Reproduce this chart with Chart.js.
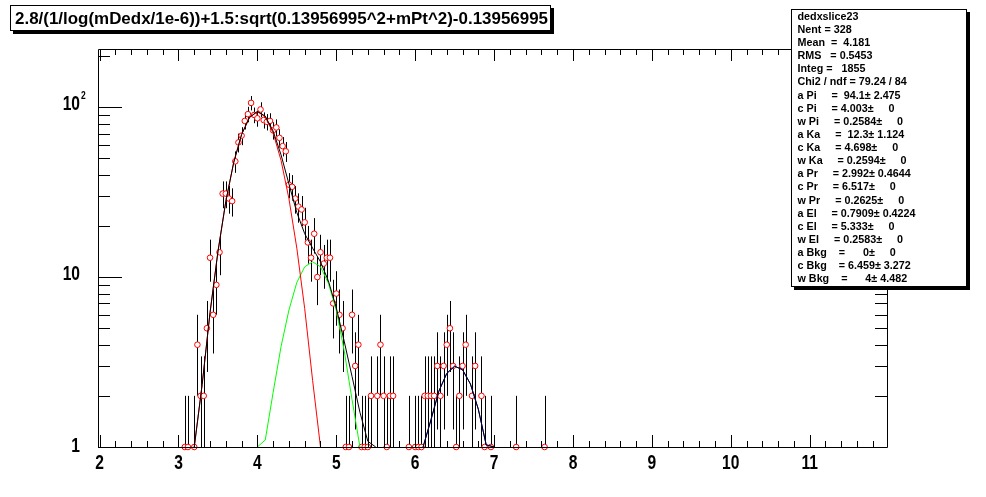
<!DOCTYPE html>
<html>
<head>
<meta charset="utf-8">
<script src="https://cdn.jsdelivr.net/npm/chart.js@4.4.1/dist/chart.umd.min.js"></script>
<style>
	html, body { margin: 0; padding: 0; background: #fff; }
	#wrap { width: 986px; height: 497px; position: relative; }
</style>
</head>
<body>
<div id="wrap"><canvas id="chart" width="986" height="497"></canvas></div>
<script>
// histogram bins (centre of each non-empty 0.04 bin) and their contents
const binCenters = [
	3.08, 3.12, 3.20, 3.24, 3.28, 3.32, 3.36, 3.40, 3.44, 3.48, 3.52, 3.56, 3.60, 3.64, 3.68,
	3.72, 3.76, 3.80, 3.84, 3.88, 3.92, 3.96, 4.00, 4.04, 4.08, 4.12, 4.16, 4.20, 4.24, 4.28,
	4.32, 4.36, 4.40, 4.44, 4.48, 4.52, 4.56, 4.60, 4.64, 4.68, 4.72, 4.76, 4.80, 4.84, 4.88,
	4.92, 4.96, 5.00, 5.04, 5.08, 5.12, 5.16, 5.20, 5.24, 5.28, 5.32, 5.36, 5.40, 5.44, 5.52,
	5.56, 5.60, 5.64, 5.68, 5.72, 5.92, 6.00, 6.04, 6.08, 6.12, 6.16, 6.20, 6.24, 6.28, 6.32,
	6.36, 6.40, 6.44, 6.48, 6.52, 6.56, 6.60, 6.64, 6.72, 6.76, 6.84, 6.88, 6.96, 7.28, 7.64
];
const binCounts = [
	1, 1, 1, 4, 2, 2, 5, 13, 6, 9, 14, 31, 31, 29, 28,
	48, 62, 68, 83, 91, 106, 90, 86, 97, 84, 82, 83, 73, 76, 66,
	59, 55, 35, 34, 29, 26, 25, 21, 16, 13, 18, 10, 14, 12, 13,
	13, 7, 8, 6, 5, 1, 1, 6, 3, 4, 1, 1, 1, 2, 2,
	4, 2, 1, 2, 2, 1, 1, 1, 1, 2, 2, 2, 2, 3, 2,
	3, 4, 5, 3, 1, 2, 3, 4, 2, 3, 2, 1, 1, 1, 1
];

// fit curves at 0.1 steps (values under 1 sit on the axis)
const totalX = [3.2, 3.3, 3.4, 3.5, 3.6, 3.7, 3.8, 3.9, 4.0, 4.1, 4.2, 4.3, 4.4, 4.5, 4.6, 4.7, 4.8, 4.9, 5.0, 5.1, 5.2, 5.3, 5.4, 5.5,
	null, 6.1, 6.2, 6.3, 6.4, 6.5, 6.6, 6.7, 6.8, 6.9, 7.0];
const totalY = [1, 2.33, 6.18, 14.1, 27.9, 47.3, 69.1, 87.0, 94.4, 88.6, 72.3, 52.4, 35.3, 24.0, 18.0, 14.8, 12.3, 9.5, 6.6, 4.2, 2.6, 1.6, 1.08, 1,
	null, 1, 1.45, 2.13, 2.71, 2.99, 2.85, 2.35, 1.67, 1.03, 1];
const pionX = [3.2, 3.3, 3.4, 3.5, 3.6, 3.7, 3.8, 3.9, 4.0, 4.1, 4.2, 4.3, 4.4, 4.5, 4.6, 4.7, 4.8];
const pionY = [1, 2.33, 6.18, 14.1, 27.9, 47.3, 69.1, 86.9, 94.1, 87.7, 70.4, 48.6, 28.9, 14.8, 6.52, 2.47, 1];
const kaonX = [4.0, 4.1, 4.2, 4.3, 4.4, 4.5, 4.6, 4.7, 4.8, 4.9, 5.0, 5.1, 5.2, 5.3];
const kaonY = [1, 1.1, 2.1, 3.9, 6.4, 9.3, 11.5, 12.3, 11.5, 9.2, 6.4, 3.7, 1.9, 1];
const protonX = [6.1, 6.2, 6.3, 6.4, 6.5, 6.6, 6.7, 6.8, 6.9, 7.0];
const protonY = [1, 1.44, 2.13, 2.71, 2.99, 2.85, 2.35, 1.67, 1.03, 1];

// axis ticks
const xMajorTicks = [2, 3, 4, 5, 6, 7, 8, 9, 10, 11];
const xTickLabels = ["2", "3", "4", "5", "6", "7", "8", "9", "10", "11"];
const yMajorTicks = [1, 10, 100];
const yMinorTicks = [2, 3, 4, 5, 6, 7, 8, 9, 20, 30, 40, 50, 60, 70, 80, 90, 200];

const titleText = "2.8/(1/log(mDedx/1e-6))+1.5:sqrt(0.13956995^2+mPt^2)-0.13956995";
const statsLines = [
	"dedxslice23",
	"Nent = 328",
	"Mean  =  4.181",
	"RMS   = 0.5453",
	"Integ =   1855",
	"Chi2 / ndf = 79.24 / 84",
	"a Pi     =  94.1\u00b1 2.475",
	"c Pi     = 4.003\u00b1     0",
	"w Pi     = 0.2584\u00b1     0",
	"a Ka     =  12.3\u00b1 1.124",
	"c Ka     = 4.698\u00b1     0",
	"w Ka     = 0.2594\u00b1     0",
	"a Pr     = 2.992\u00b1 0.4644",
	"c Pr     = 6.517\u00b1     0",
	"w Pr     = 0.2625\u00b1     0",
	"a El     = 0.7909\u00b1 0.4224",
	"c El     = 5.333\u00b1     0",
	"w El     = 0.2583\u00b1     0",
	"a Bkg    =      0\u00b1     0",
	"c Bkg    = 6.459\u00b1 3.272",
	"w Bkg    =      4\u00b1 4.482"
];

const FONT = '"Liberation Sans", Arial, sans-serif';

function toPoints(xs, ys) {
	return xs.map((x, i) => (x === null ? { x: NaN, y: null } : { x: x, y: ys[i] }));
}

// squeezed bold text, like the ROOT bitmap font
function drawText(ctx, str, x, y, size, align, sx) {
	ctx.save();
	ctx.font = "bold " + size + "px " + FONT;
	ctx.textAlign = align;
	ctx.textBaseline = "middle";
	ctx.translate(x, y);
	ctx.scale(sx, 1);
	ctx.fillText(str, 0, 0);
	ctx.restore();
}

function shadowBox(ctx, l, t, r, b) {
	ctx.fillStyle = "#000";
	ctx.fillRect(l + 3, t + 3, r - l, b - t);
	ctx.fillStyle = "#fff";
	ctx.fillRect(l, t, r - l, b - t);
	ctx.strokeStyle = "#000";
	ctx.lineWidth = 1;
	ctx.strokeRect(l + 0.5, t + 0.5, r - l - 1, b - t - 1);
}

const errorBars = {
	id: "errorBars",
	beforeDatasetsDraw(chart) {
		const { ctx, chartArea: a, scales } = chart;
		ctx.save();
		ctx.beginPath();
		ctx.rect(a.left, a.top, a.right - a.left, a.bottom - a.top);
		ctx.clip();
		ctx.beginPath();
		ctx.strokeStyle = "#000";
		ctx.lineWidth = 1;
		binCenters.forEach((c, i) => {
			const n = binCounts[i];
			const e = Math.sqrt(n);
			const px = Math.round(scales.x.getPixelForValue(c)) + 0.5;
			const lo = n - e > 0 ? scales.y.getPixelForValue(n - e) : a.bottom;
			const hi = scales.y.getPixelForValue(n + e);
			ctx.moveTo(px, lo);
			ctx.lineTo(px, hi);
		});
		ctx.stroke();
		ctx.restore();
	}
};

const frameAndText = {
	id: "frameAndText",
	afterDatasetsDraw(chart) {
		const { ctx, chartArea: a, scales } = chart;
		const xs = scales.x, ys = scales.y;
		ctx.save();
		ctx.strokeStyle = "#000";
		ctx.lineWidth = 1;
		ctx.beginPath();
		ctx.rect(Math.round(a.left) + 0.5, Math.round(a.top) + 0.5, Math.round(a.right - a.left), Math.round(a.bottom - a.top));

		// x ticks, bottom and top
		for (let v = 2; v <= 11.9; v += 0.2) {
			const major = Math.abs(v - Math.round(v)) < 1e-6;
			const len = major ? 12 : 6;
			const px = Math.round(xs.getPixelForValue(v)) + 0.5;
			ctx.moveTo(px, a.bottom);
			ctx.lineTo(px, a.bottom - len);
			ctx.moveTo(px, a.top);
			ctx.lineTo(px, a.top + len);
		}
		// y ticks, left and right
		yMajorTicks.concat(yMinorTicks).forEach((v) => {
			const len = yMajorTicks.includes(v) ? 24 : 12;
			const py = Math.round(ys.getPixelForValue(v)) + 0.5;
			ctx.moveTo(a.left, py);
			ctx.lineTo(a.left + len, py);
			ctx.moveTo(a.right, py);
			ctx.lineTo(a.right - len, py);
		});
		ctx.stroke();

		// tick labels
		ctx.fillStyle = "#000";
		xMajorTicks.forEach((v, i) => {
			drawText(ctx, xTickLabels[i], xs.getPixelForValue(v), 463, 20, "center", 0.78);
		});
		drawText(ctx, "1", 80, ys.getPixelForValue(1) - 1, 20, "right", 0.78);
		drawText(ctx, "10", 80, ys.getPixelForValue(10) - 3, 20, "right", 0.78);
		drawText(ctx, "10", 80, ys.getPixelForValue(100) - 3, 20, "right", 0.78);
		drawText(ctx, "2", 81, ys.getPixelForValue(100) - 11, 10, "left", 0.85);
		ctx.restore();
	},
	afterDraw(chart) {
		const { ctx } = chart;
		ctx.save();
		// title
		shadowBox(ctx, 10, 5, 551, 31);
		ctx.fillStyle = "#000";
		ctx.font = "bold 17px " + FONT;
		const tw = ctx.measureText(titleText).width;
		drawText(ctx, titleText, 15, 19, 17, "left", 533 / tw);

		// stats box
		shadowBox(ctx, 791, 9, 967, 287);
		ctx.fillStyle = "#000";
		ctx.font = "bold 11px " + FONT;
		const sw = ctx.measureText(statsLines[0]).width;
		statsLines.forEach((line, i) => {
			drawText(ctx, line, 797.5, 16.7 + i * 13.13, 11, "left", 61 / sw);
		});
		ctx.restore();
	}
};

const lineDataset = (label, xs, ys, color, order) => ({
	label: label,
	data: toPoints(xs, ys),
	showLine: true,
	borderColor: color,
	borderWidth: 1,
	pointRadius: 0,
	spanGaps: false,
	tension: 0,
	order: order
});

new Chart(document.getElementById("chart").getContext("2d"), {
	type: "scatter",
	data: {
		datasets: [
			lineDataset("total", totalX, totalY, "#000000", 0),
			lineDataset("pi", pionX, pionY, "#ff0000", 1),
			lineDataset("ka", kaonX, kaonY, "#00ff00", 2),
			lineDataset("pr", protonX, protonY, "#0000ff", 3),
			{
				label: "dedxslice23",
				data: binCenters.map((c, i) => ({ x: c, y: binCounts[i] })),
				pointStyle: "circle",
				pointRadius: 2.8,
				borderWidth: 1,
				borderColor: "#ff0000",
				backgroundColor: "#ffffff",
				clip: false,
				order: 4
			}
		]
	},
	options: {
		responsive: false,
		animation: false,
		devicePixelRatio: 1,
		layout: { padding: { left: 98, right: 99, top: 49, bottom: 50 } },
		plugins: { legend: { display: false }, tooltip: { enabled: false } },
		scales: {
			x: { type: "linear", min: 1.98, max: 11.98, display: false },
			y: { type: "logarithmic", min: 1, max: 220, display: false }
		}
	},
	plugins: [errorBars, frameAndText]
});
</script>
</body>
</html>
